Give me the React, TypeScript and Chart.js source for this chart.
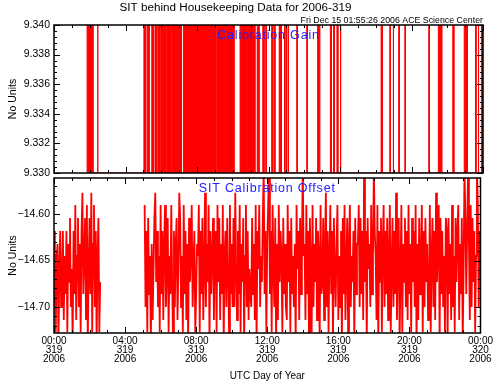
import React, { useEffect, useRef } from 'react';
import { Chart, registerables } from 'chart.js';

Chart.register(...registerables);

// ---------- data ----------
const HOUR_TICKS = [0, 4, 8, 12, 16, 20, 24];
const HOUR_LABELS = [
  ['00:00', '319', '2006'],
  ['04:00', '319', '2006'],
  ['08:00', '319', '2006'],
  ['12:00', '319', '2006'],
  ['16:00', '319', '2006'],
  ['20:00', '319', '2006'],
  ['00:00', '320', '2006'],
];

const GAIN_TICKS = [9.33, 9.332, 9.334, 9.336, 9.338, 9.34];
const GAIN_LOW = 9.33;
const GAIN_HIGH = 9.34;
// hours where Calibration Gain sits at the high level
const GAIN_HIGH_START = [
  1.85, 2.43, 5.03, 5.22, 5.47, 5.65, 5.82, 5.97, 6.35, 6.63, 7.24, 9.12, 9.6, 10.41, 10.8,
  11.37, 11.68, 11.85, 12.18, 12.3, 12.6, 12.7, 12.87, 12.97, 13.1, 13.58, 14.14, 14.75,
  14.84, 15.46, 15.64, 15.83, 16.01, 18.3, 18.79, 18.97, 19.29, 19.63, 20.97, 21.5, 22.31,
  22.95, 23.08, 23.58, 23.73, 23.92,
];
const GAIN_HIGH_END = [
  2.18, 2.46, 5.13, 5.32, 5.56, 5.75, 5.91, 6.27, 6.55, 7.13, 9.06, 9.55, 10.07, 10.75, 11.24,
  11.47, 11.75, 11.88, 12.22, 12.36, 12.66, 12.74, 12.92, 13.02, 13.13, 13.62, 14.18, 14.79,
  14.88, 15.52, 15.69, 15.88, 16.05, 18.36, 18.82, 19.0, 19.32, 19.66, 21.0, 21.69, 22.37,
  23.02, 23.13, 23.61, 23.76, 23.95,
];

const OFFSET_TICKS = [-14.7, -14.65, -14.6];
const OFFSET_CADENCE_H = 0.05;
const OFFSET_SEG1_START_H = 0.0;
const OFFSET_SEG1 = [
  -14.618, -14.686, -14.727, -14.645, -14.632, -14.74, -14.659, -14.618, -14.7, -14.673,
  -14.618, -14.714, -14.645, -14.686, -14.618, -14.727, -14.632, -14.673, -14.604, -14.7,
  -14.659, -14.74, -14.618, -14.686, -14.59, -14.714, -14.645, -14.604, -14.7, -14.632,
  -14.727, -14.618, -14.577, -14.686, -14.645, -14.604, -14.714, -14.59, -14.74, -14.659,
  -14.604, -14.686, -14.577, -14.727, -14.632, -14.59, -14.7, -14.618, -14.74, -14.645,
  -14.604, -14.727, -14.673,
];
const OFFSET_SEG2_START_H = 5.1;
const OFFSET_SEG2 = [
  // 05:06
  -14.59, -14.7, -14.618, -14.727, -14.604, -14.686, -14.645, -14.74, -14.632, -14.714,
  -14.659, -14.604, -14.577, -14.673, -14.618, -14.7, -14.645, -14.727, -14.59, -14.686,
  // 06:06
  -14.618, -14.714, -14.632, -14.59, -14.7, -14.659, -14.604, -14.727, -14.645, -14.686,
  -14.59, -14.673, -14.74, -14.618, -14.7, -14.632, -14.604, -14.714, -14.659, -14.577,
  // 07:06
  -14.604, -14.7, -14.645, -14.727, -14.59, -14.686, -14.618, -14.714, -14.632, -14.74,
  -14.604, -14.673, -14.645, -14.59, -14.7, -14.659, -14.618, -14.727, -14.686, -14.632,
  // 08:06
  -14.645, -14.59, -14.727, -14.618, -14.686, -14.604, -14.714, -14.659, -14.577, -14.7,
  -14.632, -14.673, -14.59, -14.74, -14.618, -14.686, -14.645, -14.604, -14.714, -14.632,
  // 09:06
  -14.618, -14.727, -14.59, -14.673, -14.604, -14.714, -14.632, -14.686, -14.59, -14.74,
  -14.645, -14.618, -14.7, -14.604, -14.659, -14.727, -14.59, -14.686, -14.632, -14.7,
  // 10:06
  -14.604, -14.7, -14.577, -14.659, -14.714, -14.618, -14.686, -14.59, -14.727, -14.632,
  -14.673, -14.604, -14.74, -14.645, -14.59, -14.7, -14.618, -14.714, -14.659, -14.686,
  // 11:06
  -14.7, -14.604, -14.686, -14.632, -14.714, -14.59, -14.74, -14.618, -14.659, -14.59,
  -14.7, -14.645, -14.673, -14.604, -14.55, -14.686, -14.618, -14.727, -14.632, -14.59,
  // 12:06
  -14.55, -14.686, -14.618, -14.727, -14.59, -14.659, -14.7, -14.604, -14.74, -14.632,
  -14.714, -14.59, -14.673, -14.618, -14.645, -14.727, -14.604, -14.686, -14.632, -14.7,
  // 13:06
  -14.714, -14.59, -14.673, -14.618, -14.727, -14.604, -14.686, -14.645, -14.7, -14.632,
  -14.74, -14.59, -14.659, -14.618, -14.714, -14.604, -14.686, -14.632, -14.55, -14.645,
  // 14:06
  -14.632, -14.714, -14.59, -14.686, -14.618, -14.74, -14.604, -14.659, -14.727, -14.59,
  -14.7, -14.632, -14.673, -14.604, -14.714, -14.618, -14.645, -14.74, -14.59, -14.686,
  // 15:06
  -14.673, -14.604, -14.714, -14.632, -14.577, -14.7, -14.618, -14.727, -14.645, -14.59,
  -14.686, -14.618, -14.74, -14.604, -14.659, -14.7, -14.632, -14.59, -14.714, -14.645,
  // 16:06
  -14.7, -14.618, -14.74, -14.604, -14.686, -14.59, -14.714, -14.659, -14.604, -14.727,
  -14.632, -14.59, -14.7, -14.645, -14.673, -14.618, -14.74, -14.604, -14.686, -14.632,
  // 17:06
  -14.632, -14.59, -14.7, -14.604, -14.686, -14.618, -14.714, -14.55, -14.673, -14.618,
  -14.74, -14.604, -14.659, -14.632, -14.7, -14.59, -14.686, -14.645, -14.55, -14.618,
  // 18:06
  -14.645, -14.714, -14.59, -14.74, -14.618, -14.673, -14.604, -14.727, -14.632, -14.59,
  -14.7, -14.618, -14.686, -14.604, -14.714, -14.645, -14.59, -14.727, -14.659, -14.604,
  // 19:06
  -14.7, -14.618, -14.686, -14.577, -14.714, -14.645, -14.604, -14.74, -14.659, -14.59,
  -14.727, -14.632, -14.673, -14.604, -14.7, -14.618, -14.714, -14.59, -14.686, -14.632,
  // 20:06
  -14.727, -14.604, -14.673, -14.618, -14.7, -14.59, -14.74, -14.632, -14.714, -14.604,
  -14.686, -14.645, -14.59, -14.727, -14.618, -14.7, -14.604, -14.673, -14.632, -14.714,
  // 21:06
  -14.686, -14.59, -14.727, -14.645, -14.604, -14.7, -14.618, -14.714, -14.577, -14.673,
  -14.632, -14.59, -14.74, -14.604, -14.686, -14.618, -14.7, -14.645, -14.727, -14.604,
  // 22:06
  -14.618, -14.74, -14.604, -14.686, -14.632, -14.714, -14.59, -14.7, -14.645, -14.727,
  -14.604, -14.673, -14.618, -14.59, -14.714, -14.632, -14.686, -14.604, -14.74, -14.659,
  // 23:06
  -14.55, -14.604, -14.686, -14.618, -14.55, -14.632, -14.714, -14.59, -14.7, -14.604,
  -14.673, -14.618, -14.727, -14.645, -14.55, -14.59, -14.7, -14.618,
];

// ---------- layout / style ----------
const W = 497;
const H = 382;
const PLOT_LEFT = 54;
const PLOT_RIGHT = 483;
const TOP_AREA = { top: 25, bottom: 173 };
const BOT_AREA = { top: 178, bottom: 333 };
const FONT = '"Liberation Sans", Arial, sans-serif';
const RED = '#ff0000';
const BLUE = '#2222ff';

function buildGainPoints() {
  const pts: { x: number; y: number }[] = [];
  for (let i = 0; i < GAIN_HIGH_START.length; i++) {
    const s = GAIN_HIGH_START[i];
    const e = GAIN_HIGH_END[i];
    pts.push({ x: s, y: GAIN_LOW }, { x: s, y: GAIN_HIGH }, { x: e, y: GAIN_HIGH }, { x: e, y: GAIN_LOW });
  }
  return pts;
}

function buildOffsetPoints() {
  const pts: { x: number; y: number | null }[] = [];
  OFFSET_SEG1.forEach((v, i) => pts.push({ x: OFFSET_SEG1_START_H + i * OFFSET_CADENCE_H, y: v }));
  pts.push({ x: 3.8, y: null });
  OFFSET_SEG2.forEach((v, i) => pts.push({ x: OFFSET_SEG2_START_H + i * OFFSET_CADENCE_H, y: v }));
  return pts;
}

function drawFrame(chart: any, majorY: number[], minorStep: number) {
  const { ctx, chartArea } = chart;
  const { left, right, top, bottom } = chartArea;
  const x = chart.scales.x;
  const y = chart.scales.y;
  ctx.save();
  ctx.strokeStyle = '#000';
  ctx.lineWidth = 1;
  const startK = Math.ceil(y.min / minorStep - 1e-6);
  const endK = Math.floor(y.max / minorStep + 1e-6);
  ctx.beginPath();
  for (let k = startK; k <= endK; k++) {
    const v = k * minorStep;
    const isMajor = majorY.some((m) => Math.abs(m - v) < minorStep / 10);
    const len = isMajor ? 6 : 3;
    const py = Math.round(y.getPixelForValue(v)) + 0.5;
    ctx.moveTo(left, py);
    ctx.lineTo(left + len, py);
    ctx.moveTo(right, py);
    ctx.lineTo(right - len, py);
  }
  for (let h = 0; h <= 24; h++) {
    const isMajor = HOUR_TICKS.includes(h);
    const len = isMajor ? 6 : 3;
    const px = Math.round(x.getPixelForValue(h)) + 0.5;
    ctx.moveTo(px, bottom);
    ctx.lineTo(px, bottom - len);
    ctx.moveTo(px, top);
    ctx.lineTo(px, top + len);
  }
  ctx.stroke();
  ctx.lineWidth = 1.5;
  ctx.strokeRect(left, top, right - left, bottom - top);
  ctx.restore();
}

function drawRotated(ctx: CanvasRenderingContext2D, text: string, x: number, y: number) {
  ctx.save();
  ctx.translate(x, y);
  ctx.rotate(-Math.PI / 2);
  ctx.textAlign = 'center';
  ctx.textBaseline = 'middle';
  ctx.font = `10.5px ${FONT}`;
  ctx.fillStyle = '#000';
  ctx.fillText(text, 0, 0);
  ctx.restore();
}

const topDecor = {
  id: 'topDecor',
  afterDraw(chart: any) {
    drawFrame(chart, GAIN_TICKS, 0.0004);
    const ctx: CanvasRenderingContext2D = chart.ctx;
    const { left, right, top, bottom } = chart.chartArea;
    ctx.save();
    ctx.fillStyle = '#000';
    ctx.textBaseline = 'alphabetic';
    ctx.textAlign = 'center';
    ctx.font = `11.7px ${FONT}`;
    ctx.fillText('SIT behind Housekeeping Data for 2006-319', 235.5, 11);
    ctx.textAlign = 'right';
    ctx.font = `8.8px ${FONT}`;
    ctx.fillText('Fri Dec 15 01:55:26 2006 ACE Science Center', right, 23);
    ctx.textAlign = 'center';
    ctx.fillStyle = BLUE;
    ctx.font = `12.5px ${FONT}`;
    (ctx as any).letterSpacing = '0.8px';
    ctx.fillText('Calibration Gain', (left + right) / 2, 39);
    (ctx as any).letterSpacing = '0px';
    ctx.restore();
    drawRotated(ctx, 'No Units', 13, (top + bottom) / 2);
  },
};

const botDecor = {
  id: 'botDecor',
  afterDraw(chart: any) {
    drawFrame(chart, OFFSET_TICKS, 0.01);
    const ctx: CanvasRenderingContext2D = chart.ctx;
    const { left, right, top, bottom } = chart.chartArea;
    ctx.save();
    ctx.textAlign = 'center';
    ctx.textBaseline = 'alphabetic';
    ctx.fillStyle = BLUE;
    ctx.font = `12.5px ${FONT}`;
    (ctx as any).letterSpacing = '0.8px';
    ctx.fillText('SIT Calibration Offset', (left + right) / 2, 192);
    (ctx as any).letterSpacing = '0px';
    ctx.fillStyle = '#000';
    ctx.font = `10px ${FONT}`;
    ctx.fillText('UTC Day of Year', (left + right) / 2, 379);
    ctx.restore();
    drawRotated(ctx, 'No Units', 13, (top + bottom) / 2);
  },
};

function yAxis(min: number, max: number, ticks: number[], digits: number) {
  return {
    type: 'linear' as const,
    min,
    max,
    afterFit(s: any) {
      s.width = PLOT_LEFT;
    },
    afterBuildTicks(s: any) {
      s.ticks = ticks.map((v) => ({ value: v }));
    },
    grid: { display: false, drawTicks: false },
    border: { display: false },
    ticks: {
      color: '#000',
      padding: 4,
      font: { family: FONT, size: 10.5 },
      callback: (v: any) => Number(v).toFixed(digits).replace('-', '\u2212'),
    },
  };
}

export default function App() {
  const topRef = useRef<HTMLCanvasElement>(null);
  const botRef = useRef<HTMLCanvasElement>(null);

  useEffect(() => {
    const a = new Chart(topRef.current as HTMLCanvasElement, {
      type: 'line',
      data: {
        datasets: [
          {
            data: buildGainPoints() as any,
            borderColor: RED,
            backgroundColor: RED,
            borderWidth: 1,
            pointRadius: 0,
            tension: 0,
            fill: { value: GAIN_LOW } as any,
          },
        ],
      },
      options: {
        responsive: false,
        animation: false,
        events: [],
        layout: { padding: { left: 0, right: W - PLOT_RIGHT, top: TOP_AREA.top, bottom: H - TOP_AREA.bottom } },
        plugins: { legend: { display: false }, tooltip: { enabled: false }, title: { display: false } },
        scales: {
          x: { type: 'linear', min: 0, max: 24, display: false },
          y: yAxis(9.33, 9.34, GAIN_TICKS, 3) as any,
        },
      },
      plugins: [topDecor],
    });

    const b = new Chart(botRef.current as HTMLCanvasElement, {
      type: 'line',
      data: {
        datasets: [
          {
            data: buildOffsetPoints() as any,
            borderColor: RED,
            borderWidth: 1.8,
            pointRadius: 0,
            tension: 0,
            spanGaps: false,
            fill: false,
          },
        ],
      },
      options: {
        responsive: false,
        animation: false,
        events: [],
        layout: { padding: { left: 0, right: W - PLOT_RIGHT, top: BOT_AREA.top, bottom: 0 } },
        plugins: { legend: { display: false }, tooltip: { enabled: false }, title: { display: false } },
        scales: {
          x: {
            type: 'linear',
            min: 0,
            max: 24,
            afterFit(s: any) {
              s.height = H - BOT_AREA.bottom;
            },
            afterBuildTicks(s: any) {
              s.ticks = HOUR_TICKS.map((v) => ({ value: v }));
            },
            grid: { display: false, drawTicks: false },
            border: { display: false },
            ticks: {
              color: '#000',
              padding: 4,
              autoSkip: false,
              maxRotation: 0,
              font: { family: FONT, size: 10, lineHeight: 0.9 },
              callback: (_v: any, i: number) => HOUR_LABELS[i],
            },
          } as any,
          y: yAxis(-14.728, -14.561, OFFSET_TICKS, 2) as any,
        },
      },
      plugins: [botDecor],
    });

    return () => {
      a.destroy();
      b.destroy();
    };
  }, []);

  return (
    <div style={{ position: 'fixed', left: 0, top: 0, width: W, height: H, background: '#fff' }}>
      <canvas ref={topRef} width={W} height={H} style={{ position: 'absolute', left: 0, top: 0 }} />
      <canvas ref={botRef} width={W} height={H} style={{ position: 'absolute', left: 0, top: 0 }} />
    </div>
  );
}
